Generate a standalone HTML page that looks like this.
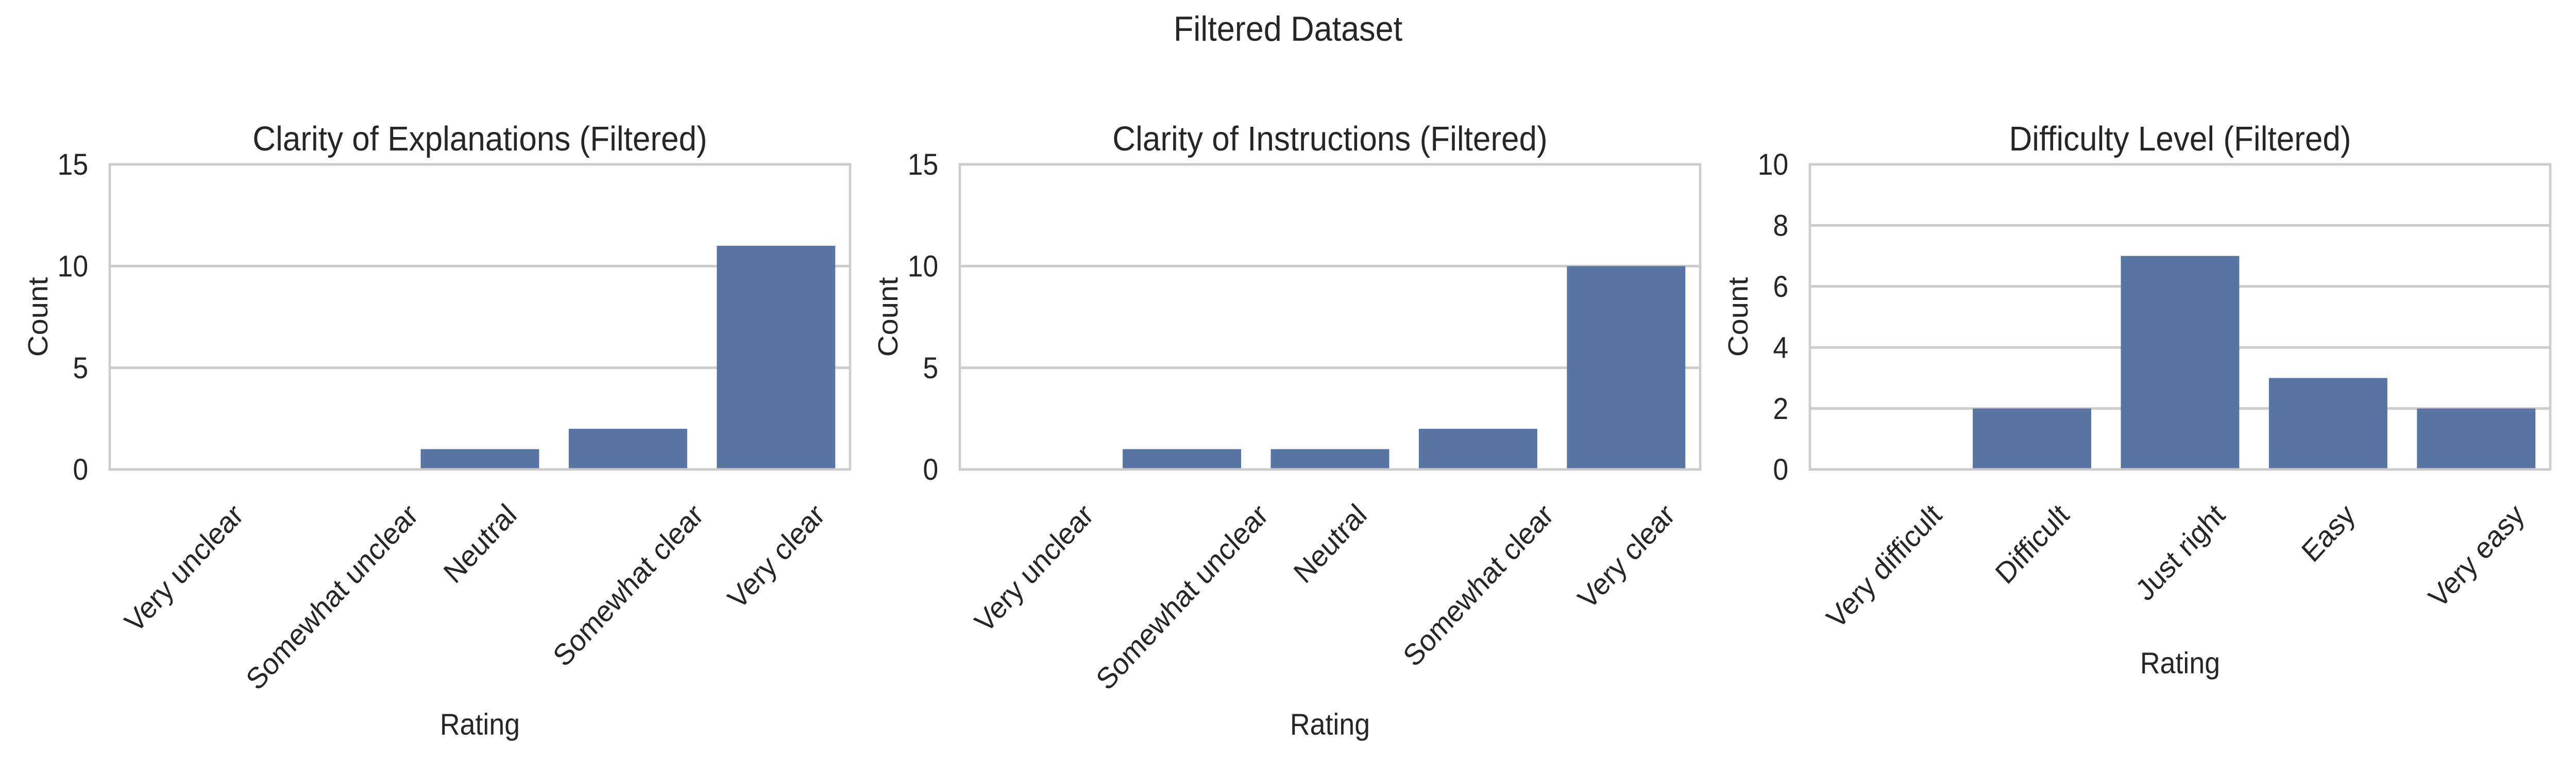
<!DOCTYPE html>
<html><head><meta charset="utf-8"><style>
html,body{margin:0;padding:0;background:#fff;overflow:hidden;width:100%;height:100%;}
svg{display:block;width:100vw;height:100vh;font-family:"Liberation Sans",Arial,sans-serif;fill:#262626;}
</style></head>
<body>
<svg id="fig" viewBox="0 0 5400 1500" preserveAspectRatio="none">
<rect x="0" y="0" width="5400" height="1500" fill="#fff"/>
<text x="2700" y="79" font-size="68" text-anchor="middle">Filtered Dataset</text>
</svg>
<script>
const clarityCats = ["Very unclear","Somewhat unclear","Neutral","Somewhat clear","Very clear"];
const difficultyCats = ["Very difficult","Difficult","Just right","Easy","Very easy"];
const explanationValues = [0,0,1,2,11];
const instructionValues = [0,1,1,2,10];
const difficultyValues = [0,2,7,3,2];
const ticks15 = [0,5,10,15];
const ticks10 = [0,2,4,6,8,10];
const titles = ["Clarity of Explanations (Filtered)","Clarity of Instructions (Filtered)","Difficulty Level (Filtered)"];

const NS = "http://www.w3.org/2000/svg";
const svg = document.getElementById('fig');
function mk(tag, attrs, parent){
  const e = document.createElementNS(NS, tag);
  for (const k in attrs) e.setAttribute(k, attrs[k]);
  (parent||svg).appendChild(e);
  return e;
}
const TOP=319, BOT=911, W=1552;
const panels = [
  {left:230, cats:clarityCats, vals:explanationValues, ticks:ticks15, ymax:15, title:titles[0], id:'explanations'},
  {left:2012, cats:clarityCats, vals:instructionValues, ticks:ticks15, ymax:15, title:titles[1], id:'instructions'},
  {left:3794, cats:difficultyCats, vals:difficultyValues, ticks:ticks10, ymax:10, title:titles[2], id:'difficulty'}
];
panels.forEach(p=>{
  const g = mk('g', {});
  
  
  const y = v => BOT - (v / p.ymax) * (BOT - TOP);
  const band = W / p.cats.length;
  const x = i => p.left + band * (i + 0.5);
  p.ticks.forEach(t=>{
    const ln = mk('line', {x1:p.left, x2:p.left+W, y1:y(t), y2:y(t), stroke:'#cccccc', 'stroke-width':5}, g);
    
    
    const tl = mk('text', {x:p.left-45, y:y(t), 'font-size':58, 'text-anchor':'end', 'dominant-baseline':'central'}, g);
    tl.textContent = t;
    
    
  });
  p.vals.forEach((v,i)=>{
    const bw = band*0.8;
    const r = mk('rect', {x:x(i)-bw/2, y:y(v), width:bw, height:Math.max(0,BOT-y(v)), fill:'#5975a4'}, g);
    
    
  });
  const fr = mk('rect', {x:p.left, y:TOP, width:W, height:BOT-TOP, fill:'none', stroke:'#cccccc', 'stroke-width':5}, g);
  
  
  const tt = mk('text', {x:p.left+W/2, y:292, 'font-size':67, 'text-anchor':'middle'}, g);
  tt.textContent = p.title;
  
  
  const yl = mk('text', {x:0, y:0, 'font-size':58, 'text-anchor':'middle', 'dominant-baseline':'central', transform:`translate(${p.left-151},${(TOP+BOT)/2}) rotate(-90)`}, g);
  yl.textContent = 'Count';
  
  
  let maxBottom = BOT;
  const fs = 58, h = fs*1.0;
  p.cats.forEach((c,i)=>{
    const t = mk('text', {x:0, y:0, 'font-size':fs, 'text-anchor':'middle', 'dominant-baseline':'central'}, g);
    t.textContent = c;
    
    
    const L = t.getComputedTextLength();
    const bh = (L + h) * Math.SQRT1_2;
    const cy = BOT + 57 + bh/2;
    t.setAttribute('transform', `translate(${x(i)},${cy}) rotate(-45)`);
    maxBottom = Math.max(maxBottom, BOT + 57 + bh);
  });
  const xl = mk('text', {x:p.left+W/2, y:maxBottom+77, 'font-size':58, 'text-anchor':'middle'}, g);
  xl.textContent = 'Rating';
  
  
});
</script>
</body></html>
